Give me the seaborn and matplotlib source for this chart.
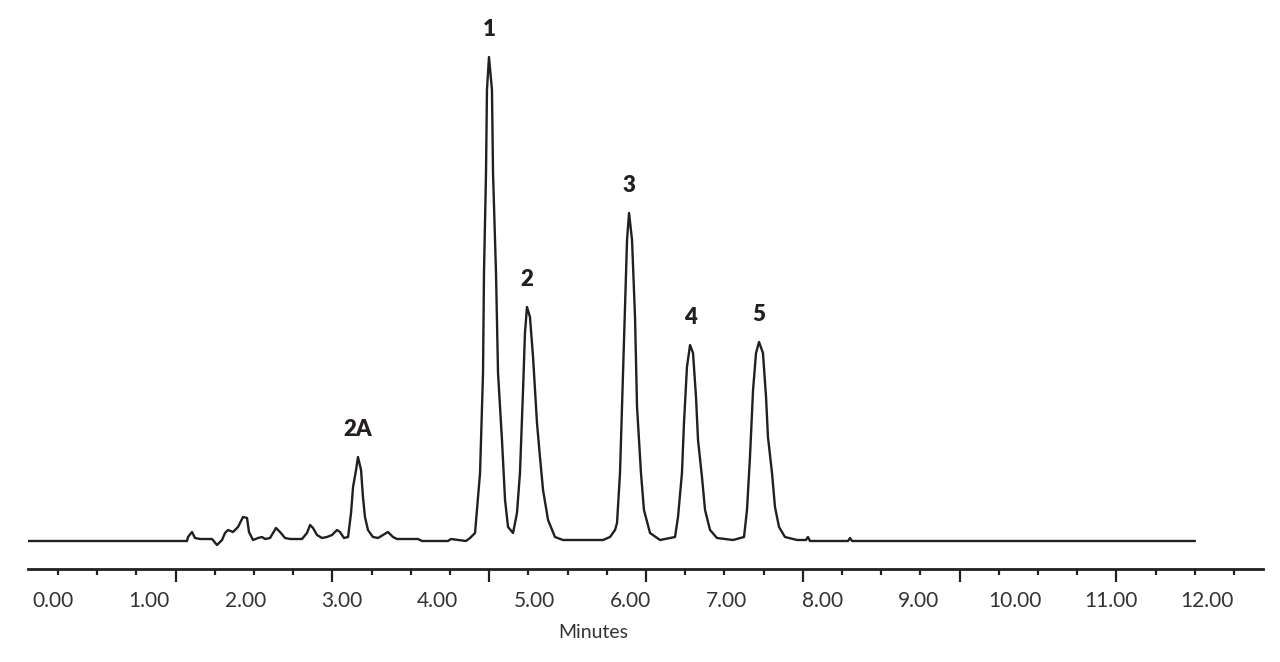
import numpy as np
import pandas as pd
import seaborn as sns
import matplotlib.pyplot as plt

# chromatogram trace (time in minutes, detector response)
time_min = [-0.260, 1.393, 1.403, 1.445, 1.476, 1.528, 1.653, 1.705, 1.757, 1.788,
            1.819, 1.871, 1.923, 1.975, 2.017, 2.037, 2.079, 2.131, 2.173, 2.204,
            2.256, 2.318, 2.360, 2.412, 2.464, 2.588, 2.640, 2.672, 2.703, 2.744,
            2.796, 2.848, 2.900, 2.952, 2.983, 3.025, 3.067, 3.098, 3.119, 3.150,
            3.170, 3.202, 3.222, 3.243, 3.274, 3.326, 3.378, 3.430, 3.482, 3.534,
            3.576, 3.794, 3.836, 4.106, 4.137, 4.293, 4.335, 4.387, 4.439, 4.470,
            4.480, 4.501, 4.511, 4.532, 4.563, 4.574, 4.605, 4.626, 4.667, 4.699,
            4.730, 4.782, 4.823, 4.854, 4.886, 4.906, 4.927, 4.958, 4.990, 5.031,
            5.062, 5.094, 5.146, 5.218, 5.301, 5.717, 5.790, 5.842, 5.863, 5.894,
            5.915, 5.946, 5.967, 5.988, 6.019, 6.050, 6.071, 6.112, 6.143, 6.206,
            6.310, 6.466, 6.497, 6.538, 6.559, 6.590, 6.622, 6.653, 6.684, 6.705,
            6.746, 6.778, 6.830, 6.902, 7.069, 7.183, 7.214, 7.245, 7.277, 7.308,
            7.339, 7.380, 7.412, 7.432, 7.474, 7.505, 7.547, 7.609, 7.734, 7.827,
            7.848, 7.869, 8.264, 8.285, 8.306, 11.871]
response = [0, 0, 4, 9, 3, 2, 2, -4, 1, 8,
            11, 9, 14, 24, 23, 9, 1, 3, 4, 2,
            3, 13, 9, 3, 2, 2, 8, 16, 13, 6,
            3, 4, 6, 11, 9, 3, 4, 28, 54, 71,
            84, 71, 44, 24, 11, 4, 3, 6, 9, 4,
            2, 2, 0, 0, 2, 0, 3, 8, 68, 168,
            268, 368, 451, 484, 451, 368, 268, 168, 101, 41,
            14, 8, 28, 68, 151, 208, 234, 224, 184, 118,
            84, 51, 21, 4, 1, 1, 4, 11, 18, 68,
            134, 234, 301, 328, 301, 224, 134, 68, 31, 8,
            1, 4, 24, 68, 118, 174, 196, 188, 144, 101,
            64, 31, 11, 3, 1, 4, 31, 84, 151, 188,
            199, 188, 144, 104, 68, 34, 14, 4, 1, 1,
            4, 0, 0, 3, 0, 0]

peak_names = ['2A', '1', '2', '3', '4', '5']
peak_times = [3.170, 4.532, 4.927, 5.988, 6.622, 7.339]
peak_heights = [84, 484, 234, 328, 196, 199]

label_times = list(range(13))
label_texts = ['0.00', '1.00', '2.00', '3.00', '4.00', '5.00', '6.00',
               '7.00', '8.00', '9.00', '10.00', '11.00', '12.00']

df = pd.DataFrame({'time': time_min, 'response': response})

sns.set_theme(style='white')
plt.rcParams['font.family'] = ['Lato', 'DejaVu Sans']
ink = '#231f20'

fig = plt.figure(figsize=(12.8, 6.62), dpi=100)
ax = fig.add_axes([28 / 1280, 93 / 662, 1235 / 1280, 559 / 662])

sns.lineplot(data=df, x='time', y='response', ax=ax, color=ink,
             linewidth=1.7, sort=False, estimator=None)

for name, t, h in zip(peak_names, peak_times, peak_heights):
    ax.annotate(name, (t, h), xytext=(0, 12), textcoords='offset points',
                ha='center', va='bottom', fontsize=16, fontweight='heavy',
                color=ink)

ax.set_xlim(-0.260, 12.578)
ax.set_ylim(-28, 531)
ax.set_yticks([])
ax.set_ylabel('')

# tick marks of the original scale (31 marks, every 4th one long)
marks = 0.052 + 0.4075 * np.arange(31)
ax.set_xticks(marks[3::4])
ax.set_xticks(marks, minor=True)
ax.tick_params(axis='x', which='major', bottom=True, length=9, width=1.6,
               color=ink, labelbottom=False)
ax.tick_params(axis='x', which='minor', bottom=True, length=4, width=1.6,
               color=ink)

sns.despine(ax=ax, left=True)
ax.spines['bottom'].set_linewidth(2)
ax.spines['bottom'].set_color(ink)

sec = ax.secondary_xaxis('bottom')
sec.set_xticks(label_times)
sec.set_xticklabels(label_texts)
sec.tick_params(axis='x', length=0, pad=16, labelsize=15, labelcolor='#333333')
sec.spines['bottom'].set_visible(False)

ax.set_xlabel('Minutes', fontsize=14, color='#333333')
ax.xaxis.set_label_coords(0.4575, -0.098)

fig.savefig('out.png', dpi=100)
